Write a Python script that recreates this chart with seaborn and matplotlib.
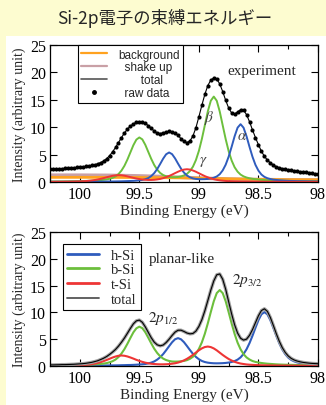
import numpy as np
import matplotlib
matplotlib.use("Agg")
import matplotlib.pyplot as plt
from matplotlib.lines import Line2D
from matplotlib.patches import Rectangle
from matplotlib.ticker import MultipleLocator, FuncFormatter
import seaborn as sns

# ---- data ----
# binding energy grid, 0.025 eV steps from 100.25 down to 98.0
energy = np.linspace(100.25, 98.0, 91)
# coarse grid for the smooth background curves
energy_coarse = np.linspace(100.25, 98.0, 10)

# top panel: experiment
bg_top = [0.85, 0.85, 0.84, 0.82, 0.78, 0.70, 0.58, 0.48, 0.42, 0.40]
shake_top = [1.25, 1.25, 1.22, 1.12, 0.95, 0.72, 0.55, 0.45, 0.40, 0.38]

green_top = [
    .09, .10, .10, .11, .11, .12, .13, .14, .15, .16,
    .17, .19, .20, .22, .25, .28, .30, .35, .40, .47,
    .58, .75, 1.02, 1.45, 2.08, 2.96, 4.10, 5.41, 6.72, 7.73,
    8.13, 7.78, 6.79, 5.50, 4.22, 3.10, 2.25, 1.65, 1.27, 1.04,
    .92, .87, .87, .92, 1.02, 1.20, 1.49, 2.00, 2.79, 4.00,
    5.68, 7.86, 10.36, 12.89, 14.83, 15.59, 14.82, 12.86, 10.33, 7.82,
    5.62, 3.92, 2.69, 1.88, 1.35, 1.03, .82, .68, .58, .51,
    .46, .41, .36, .32, .29, .26, .25, .23, .22, .20,
    .19, .17, .16, .15, .14, .14, .13, .12, .12, .11,
    .11,
]
blue_top = [
    .04, .04, .04, .04, .04, .04, .04, .05, .05, .05,
    .05, .06, .06, .06, .07, .07, .07, .08, .08, .09,
    .10, .10, .11, .12, .13, .15, .17, .19, .21, .25,
    .30, .38, .51, .72, 1.08, 1.62, 2.36, 3.29, 4.26, 5.06,
    5.39, 5.08, 4.31, 3.35, 2.44, 1.71, 1.19, .85, .66, .56,
    .52, .51, .52, .56, .64, .78, 1.01, 1.42, 2.12, 3.16,
    4.63, 6.43, 8.35, 9.92, 10.55, 9.91, 8.34, 6.41, 4.60, 3.12,
    2.07, 1.36, .94, .69, .54, .43, .37, .32, .28, .25,
    .22, .20, .18, .16, .15, .14, .13, .12, .11, .10,
    .09,
]
red_top = [
    .04, .04, .05, .05, .05, .06, .06, .07, .08, .10,
    .11, .14, .17, .22, .28, .36, .46, .58, .71, .86,
    1.00, 1.13, 1.21, 1.25, 1.23, 1.15, 1.03, .90, .76, .64,
    .54, .46, .40, .37, .37, .40, .47, .56, .70, .88,
    1.10, 1.35, 1.62, 1.88, 2.11, 2.27, 2.33, 2.27, 2.10, 1.87,
    1.60, 1.33, 1.07, .85, .66, .51, .39, .30, .24, .19,
    .16, .14, .12, .11, .09, .08, .08, .07, .07, .06,
    .06, .06, .05, .05, .05, .05, .05, .04, .04, .04,
    .04, .04, .04, .04, .03, .03, .03, .03, .03, .03,
    .03,
]
raw_top = [
    2.35, 2.37, 2.40, 2.42, 2.45, 2.48, 2.52, 2.56, 2.60, 2.65,
    2.70, 2.76, 2.83, 2.92, 3.02, 3.15, 3.32, 3.55, 3.85, 4.25,
    4.80, 5.50, 6.30, 7.20, 8.10, 8.95, 9.65, 10.20, 10.60, 10.90,
    11.00, 10.95, 10.70, 10.30, 9.80, 9.30, 8.95, 8.85, 8.95, 9.15,
    9.25, 9.20, 8.95, 8.50, 7.90, 7.40, 7.20, 7.50, 8.40, 9.90,
    11.90, 14.00, 16.00, 17.60, 18.60, 19.00, 18.80, 17.90, 16.50, 14.90,
    13.50, 12.60, 12.40, 12.80, 13.20, 13.10, 12.30, 11.00, 9.50, 8.10,
    6.80, 5.60, 4.70, 4.00, 3.50, 3.10, 2.80, 2.60, 2.45, 2.30,
    2.20, 2.10, 2.02, 1.95, 1.88, 1.82, 1.75, 1.68, 1.60, 1.52,
    1.45,
]

# bottom panel: planar-like model
h_si = [
    .04, .04, .04, .04, .05, .05, .05, .05, .05, .06,
    .06, .06, .06, .07, .07, .08, .08, .09, .09, .10,
    .11, .12, .12, .13, .15, .16, .18, .19, .21, .24,
    .28, .32, .38, .49, .63, .85, 1.19, 1.64, 2.22, 2.94,
    3.70, 4.43, 4.99, 5.20, 4.98, 4.44, 3.72, 2.97, 2.27, 1.70,
    1.26, .94, .74, .62, .55, .51, .50, .51, .53, .57,
    .64, .75, .92, 1.19, 1.61, 2.25, 3.12, 4.27, 5.64, 7.14,
    8.56, 9.64, 10.05, 9.64, 8.55, 7.12, 5.62, 4.24, 3.09, 2.21,
    1.57, 1.14, .86, .67, .55, .46, .40, .35, .31, .28,
    .26,
]
b_si = [
    .10, .10, .11, .12, .13, .13, .14, .15, .16, .17,
    .19, .20, .23, .25, .27, .30, .34, .39, .45, .54,
    .69, .89, 1.20, 1.67, 2.32, 3.15, 4.15, 5.24, 6.28, 7.03,
    7.34, 7.06, 6.30, 5.28, 4.22, 3.23, 2.43, 1.81, 1.38, 1.11,
    .94, .84, .82, .83, .88, .95, 1.09, 1.34, 1.72, 2.30,
    3.19, 4.41, 6.02, 7.96, 10.07, 12.08, 13.60, 14.17, 13.59, 12.07,
    10.04, 7.93, 5.98, 4.35, 3.11, 2.21, 1.60, 1.21, .93, .76,
    .65, .56, .49, .43, .39, .35, .31, .28, .26, .24,
    .23, .21, .20, .19, .17, .15, .15, .13, .12, .12,
    .11,
]
t_si = [
    .06, .06, .07, .07, .08, .08, .09, .10, .11, .13,
    .15, .18, .21, .27, .34, .44, .56, .72, .91, 1.12,
    1.35, 1.58, 1.77, 1.91, 1.96, 1.91, 1.78, 1.59, 1.38, 1.15,
    .95, .77, .62, .51, .42, .37, .33, .31, .31, .33,
    .36, .43, .51, .64, .82, 1.05, 1.34, 1.69, 2.08, 2.51,
    2.93, 3.29, 3.54, 3.63, 3.53, 3.28, 2.92, 2.49, 2.06, 1.67,
    1.31, 1.02, .78, .60, .46, .37, .29, .24, .21, .18,
    .16, .14, .13, .12, .11, .10, .09, .09, .08, .08,
    .07, .07, .06, .06, .06, .06, .05, .05, .05, .05,
    .05,
]
total_bot = np.array(h_si) + np.array(b_si) + np.array(t_si)

top_labels = ["background", "  shake up", "       total", "  raw data"]
bot_labels = ["h-Si", "b-Si", "t-Si", "total"]

ORANGE = "#ffa21f"
SHAKE = "#c9a0a6"
GREEN = "#6cbf3c"
BLUE = "#2f5cbd"
RED = "#ee3535"

# ---- style ----
sns.set_style("ticks")
plt.rcParams["font.family"] = ["Liberation Serif", "DejaVu Serif"]
plt.rcParams["mathtext.fontset"] = "stix"

fig = plt.figure(figsize=(3.26, 4.06), dpi=100, facecolor="#fdfcd0")
fig.add_artist(Rectangle((6 / 326, 0), 1, 369 / 406, transform=fig.transFigure,
                         facecolor="white", edgecolor="none", zorder=-1))
fig.text(0.505, 1 - 18 / 406, "Si-2p電子の束縛エネルギー", ha="center", va="center",
         fontsize=12.5, family=["Noto Sans CJK JP", "DejaVu Sans"])

ax1 = fig.add_axes([50 / 326, 1 - 183 / 406, 268 / 326, 137 / 406])
ax2 = fig.add_axes([50 / 326, 1 - 367 / 406, 268 / 326, 134 / 406])

for ax in (ax1, ax2):
    ax.set_xlim(100.25, 98.0)
    ax.set_ylim(0, 25)
    ax.xaxis.set_major_locator(MultipleLocator(0.5))
    ax.xaxis.set_minor_locator(MultipleLocator(0.25))
    ax.yaxis.set_major_locator(MultipleLocator(5))
    ax.xaxis.set_major_formatter(FuncFormatter(lambda v, p: f"{v:g}"))
    ax.tick_params(which="both", direction="in", top=True, right=True,
                   labelsize=11.5, width=0.8, colors="black", pad=3)
    ax.tick_params(which="major", length=5)
    ax.tick_params(which="minor", length=3)
    ax.set_xlabel("Binding Energy (eV)", fontsize=11, labelpad=1)
    ax.set_ylabel("Intensity (arbitrary unit)", fontsize=10, labelpad=3)
    for s in ax.spines.values():
        s.set_linewidth(0.9)
        s.set_color("black")

# ---- top panel ----
sns.lineplot(x=energy_coarse, y=shake_top, color=SHAKE, lw=2.5, ax=ax1)
sns.lineplot(x=energy_coarse, y=bg_top, color=ORANGE, lw=2.0, ax=ax1)
sns.lineplot(x=energy, y=green_top, color=GREEN, lw=1.4, ax=ax1)
sns.lineplot(x=energy, y=blue_top, color=BLUE, lw=1.4, ax=ax1)
sns.lineplot(x=energy, y=red_top, color=RED, lw=1.4, ax=ax1)
sns.lineplot(x=energy, y=raw_top, color="black", lw=0.8, ax=ax1)
sns.scatterplot(x=energy, y=raw_top, color="black", s=9, linewidth=0, ax=ax1)

h1 = [Line2D([], [], color=ORANGE, lw=1.6),
      Line2D([], [], color=SHAKE, lw=1.6),
      Line2D([], [], color="#555555", lw=1.2),
      Line2D([], [], color="black", marker="o", ms=2.5, ls="none")]
leg1 = ax1.legend(h1, top_labels, loc="upper left", bbox_to_anchor=(0.104, 1.0),
                  borderaxespad=0, prop={"family": "Liberation Sans", "size": 8.5},
                  handlelength=2.2, handletextpad=0.9, labelspacing=0.08,
                  borderpad=0.3, fancybox=False, framealpha=1, edgecolor="black")
leg1.get_frame().set_linewidth(0.8)

ax1.text(98.47, 20.3, "experiment", ha="center", va="center", fontsize=11)
ax1.text(98.91, 11.9, r"$\beta$", ha="center", va="center", fontsize=11, color="#444444")
ax1.text(98.64, 8.4, r"$\alpha$", ha="center", va="center", fontsize=11, color="#444444")
ax1.text(98.96, 3.8, r"$\gamma$", ha="center", va="center", fontsize=11, color="#444444")

# ---- bottom panel ----
sns.lineplot(x=energy, y=h_si, color=BLUE, lw=1.5, ax=ax2)
sns.lineplot(x=energy, y=b_si, color=GREEN, lw=1.5, ax=ax2)
sns.lineplot(x=energy, y=t_si, color=RED, lw=1.5, ax=ax2)
sns.lineplot(x=energy, y=total_bot, color="#a0a0a0", lw=2.4, ax=ax2)
sns.lineplot(x=energy, y=total_bot, color="black", lw=0.8, ax=ax2)

h2 = [Line2D([], [], color=BLUE, lw=2),
      Line2D([], [], color=GREEN, lw=2),
      Line2D([], [], color=RED, lw=2),
      Line2D([], [], color="#555555", lw=1.3)]
leg2 = ax2.legend(h2, bot_labels, loc="upper left", bbox_to_anchor=(0.0485, 0.91),
                  borderaxespad=0, prop={"family": "Liberation Serif", "size": 10.5},
                  handlelength=2.2, handletextpad=0.8, labelspacing=0.1,
                  borderpad=0.3, fancybox=False, framealpha=1, edgecolor="black")
leg2.get_frame().set_linewidth(0.8)

ax2.text(99.14, 20.0, "planar-like", ha="center", va="center", fontsize=11)
ax2.text(98.59, 16.2, r"$2p_{3/2}$", ha="center", va="center", fontsize=11)
ax2.text(99.30, 9.1, r"$2p_{1/2}$", ha="center", va="center", fontsize=11)

fig.savefig("out.png", dpi=100, facecolor=fig.get_facecolor())
